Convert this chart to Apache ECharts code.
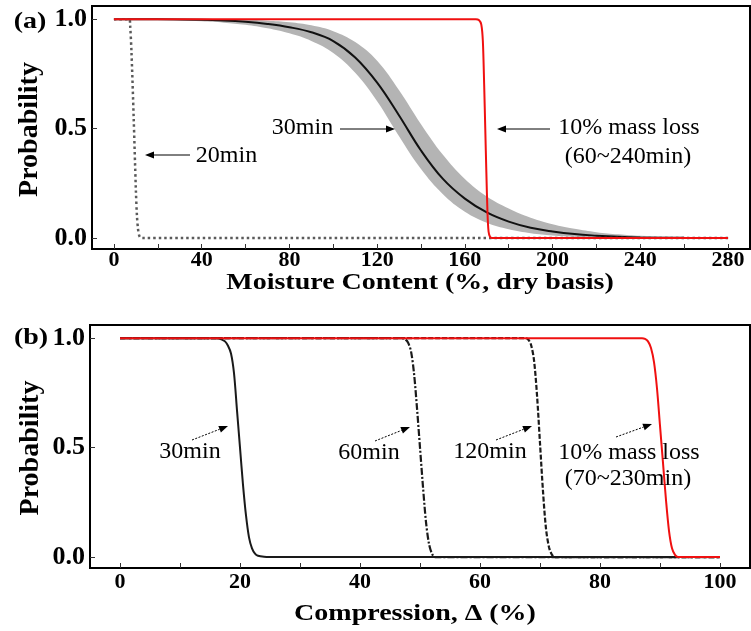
<!DOCTYPE html>
<html><head><meta charset="utf-8">
<script src="https://cdn.jsdelivr.net/npm/echarts@6/dist/echarts.min.js"></script>
<style>html,body{margin:0;padding:0;background:#fff}#c{width:751px;height:631px}</style>
</head><body><div id="c"></div>
<script>
// ---- Panel (a): moisture content ----
const moistX = [0,20,40,50,60,70,80,90,100,110,120,130,140,150,160,170,180,190,200,210,220,230,240,260,280];
const p30min = [1,0.999,0.997,0.994,0.988,0.978,0.963,0.94,0.9,0.825,0.71,0.56,0.40,0.27,0.18,0.117,0.075,0.047,0.03,0.018,0.011,0.006,0.003,0.001,0];
const bandUpper = [1,1,1,0.999,0.997,0.993,0.986,0.972,0.945,0.895,0.81,0.675,0.52,0.38,0.27,0.19,0.135,0.093,0.063,0.042,0.027,0.017,0.01,0.003,0];
const bandLower = [1,0.998,0.99,0.984,0.974,0.958,0.935,0.9,0.845,0.755,0.625,0.465,0.315,0.2,0.12,0.07,0.04,0.022,0.012,0.006,0.003,0.001,0,0,0];
const x20min = [0,7,7.4,8,9,10,10.5,11,11.5,12,13,280];
const p20min = [1,1,0.97,0.85,0.55,0.22,0.1,0.04,0.012,0.003,0,0];
const xMassA = [0,165,166.5,167.5,168.2,168.8,169.3,169.8,170.3,170.8,171.5,172.5,280];
const pMassA = [1,1,0.995,0.975,0.9,0.7,0.5,0.3,0.12,0.03,0.005,0,0];
const ticksA = [0,40,80,120,160,200,240,280];
const minorA = [0,20,40,60,80,100,120,140,160,180,200,220,240,260,280];
// ---- Panel (b): compression ----
const x30b = [0,16,16.5,17,17.5,18,18.5,19,19.5,20,20.5,21,21.5,22,22.5,23,24,25,100];
const p30b = [1,1,0.998,0.993,0.985,0.965,0.93,0.84,0.67,0.5,0.33,0.19,0.09,0.04,0.016,0.006,0.001,0,0];
const x60b = [0,47,47.5,48,48.5,49,49.5,50,50.5,51,51.5,52,52.5,100];
const p60b = [1,1,0.995,0.98,0.94,0.84,0.68,0.5,0.32,0.16,0.06,0.015,0,0];
const x120b = [0,67.5,68,68.5,69,69.5,70,70.5,71,71.5,72,72.5,100];
const p120b = [1,1,0.995,0.97,0.9,0.74,0.52,0.3,0.13,0.045,0.01,0,0];
const xMassB = [0,87,87.5,88,88.5,89,89.5,90,90.5,91,91.5,92,92.5,93,100];
const pMassB = [1,1,0.997,0.985,0.955,0.89,0.77,0.6,0.43,0.26,0.12,0.04,0.01,0,0];
const ticksB = [0,20,40,60,80,100];
const minorB = [0,10,20,30,40,50,60,70,80,90,100];
const ticksY = [0,0.5,1.0];

const FONT = "'Liberation Serif','Times New Roman',serif";
const pairs = (xs, ys) => xs.map((x, i) => [x, ys[i]]);

function txt(text, x, y, size, bold, extra) {
  return Object.assign({
    type: 'text', x: x, y: y, z: 100,
    style: { text: text, fontFamily: FONT, fontSize: size, fontWeight: bold ? 'bold' : 'normal',
      fill: '#000', align: 'center', verticalAlign: 'middle', textAlign: 'center', textVerticalAlign: 'middle' }
  }, extra || {});
}
function arrow(x1, y1, x2, y2, dashed) {
  const a = Math.atan2(y2 - y1, x2 - x1), L = 9, W = 3.5;
  const bx = x2 - L * Math.cos(a), by = y2 - L * Math.sin(a);
  const px = -Math.sin(a) * W, py = Math.cos(a) * W;
  return [
    { type: 'line', z: 100, shape: { x1: x1, y1: y1, x2: bx, y2: by },
      style: { stroke: '#000', lineWidth: 1, lineDash: dashed ? [2, 1.5] : null } },
    { type: 'polygon', z: 100, shape: { points: [[x2, y2], [bx + px, by + py], [bx - px, by - py]] },
      style: { fill: '#000' } }
  ];
}

const tickStyle = { show: true, inside: true, length: 5, lineStyle: { color: '#333', width: 1 } };
function xAx(grid, min, max, labels, minor, size, margin) {
  return { type: 'value', gridIndex: grid, min: min, max: max,
    axisLine: { show: false, onZero: false }, splitLine: { show: false },
    axisTick: Object.assign({ customValues: minor }, tickStyle),
    axisLabel: { customValues: labels, fontFamily: FONT, fontWeight: 'bold', fontSize: size, color: '#000', margin: margin } };
}
function yAx(grid) {
  return { type: 'value', gridIndex: grid, min: -0.05, max: 1.06,
    axisLine: { show: false, onZero: false }, splitLine: { show: false },
    axisTick: Object.assign({ customValues: ticksY }, tickStyle),
    axisLabel: { customValues: ticksY, fontFamily: FONT, fontWeight: 'bold', fontSize: 26, color: '#000', margin: 5,
      formatter: v => v.toFixed(1) } };
}
function line(name, xi, data, color, width, type, z, sm) {
  return { name: name, type: 'line', xAxisIndex: xi, yAxisIndex: xi, data: data, showSymbol: false,
    smooth: sm || 0.3, z: z || 2,
    lineStyle: { color: color, width: width, type: type || 'solid' } };
}
function area(name, data, color) {
  return { name: name, type: 'line', xAxisIndex: 0, yAxisIndex: 0, data: data, showSymbol: false,
    smooth: 0.4, z: 1, lineStyle: { width: 0, opacity: 0 }, areaStyle: { color: color, opacity: 1 } };
}

const graphic = [
  txt('(a)', 30, 22, 28, true, { scaleY: 0.8 }),
  txt('(b)', 31, 338, 28, true, { scaleY: 0.8 }),
  txt('Probability', 30, 129.5, 28, true, { rotation: Math.PI / 2 }),
  txt('Probability', 30.5, 448, 28, true, { rotation: Math.PI / 2 }),
  txt('Moisture Content (%, dry basis)', 420, 283, 28, true, { scaleY: 0.8 }),
  txt('Compression, \u0394 (%)', 415, 614, 28, true, { scaleY: 0.8 }),
  txt('20min', 226.5, 156, 24, false),
  txt('30min', 302.5, 128, 24, false),
  txt('10% mass loss', 629, 128, 24, false),
  txt('(60~240min)', 628, 157, 24, false),
  txt('30min', 190, 452, 24, false),
  txt('60min', 369, 453, 24, false),
  txt('120min', 490, 452, 24, false),
  txt('10% mass loss', 629, 453, 24, false),
  txt('(70~230min)', 628, 479, 24, false)
].concat(
  arrow(190, 155, 145, 155, false),
  arrow(340, 129, 395, 129, false),
  arrow(550, 129, 497, 129, false),
  arrow(192, 440, 228, 426, true),
  arrow(375, 441, 410, 427, true),
  arrow(496, 440, 532, 426, true),
  arrow(616, 437, 652, 424, true)
);

const chart = echarts.init(document.getElementById('c'), null, { renderer: 'canvas' });
chart.setOption({
  animation: false,
  backgroundColor: '#fff',
  grid: [
    { left: 92, right: 1, top: 6, bottom: 382, show: true, borderColor: '#000', borderWidth: 2, backgroundColor: 'transparent' },
    { left: 90, right: 1, top: 325, bottom: 63, show: true, borderColor: '#000', borderWidth: 2, backgroundColor: 'transparent' }
  ],
  xAxis: [xAx(0, -10, 290, ticksA, minorA, 22, 0), xAx(1, -5, 105, ticksB, minorB, 22, 3)],
  yAxis: [yAx(0), yAx(1)],
  series: [
    // grey confidence band: upper envelope filled, then the area under the lower envelope masked white
    area('band upper', pairs(moistX, bandUpper).slice(1), '#b4b4b4'),
    area('band lower', pairs(moistX, bandLower), '#ffffff'),
    line('30min', 0, pairs(moistX, p30min), '#111', 2, 'solid', 3, 0.4),
    line('20min', 0, pairs(x20min, p20min), '#5a5a5a', 2.5, [2.5, 3], 3),
    line('10% mass loss', 0, pairs(xMassA, pMassA), '#f01010', 2, 'solid', 4),
    line('30min b', 1, pairs(x30b, p30b), '#1a1a1a', 2, 'solid', 3),
    line('60min b', 1, pairs(x60b, p60b), '#1a1a1a', 2.2, [7, 2, 2, 2], 3),
    line('120min b', 1, pairs(x120b, p120b), '#1a1a1a', 2.2, [5, 2], 3),
    line('10% mass loss b', 1, pairs(xMassB, pMassB), '#f01010', 2, 'solid', 4)
  ],
  graphic: graphic
});
</script></body></html>
